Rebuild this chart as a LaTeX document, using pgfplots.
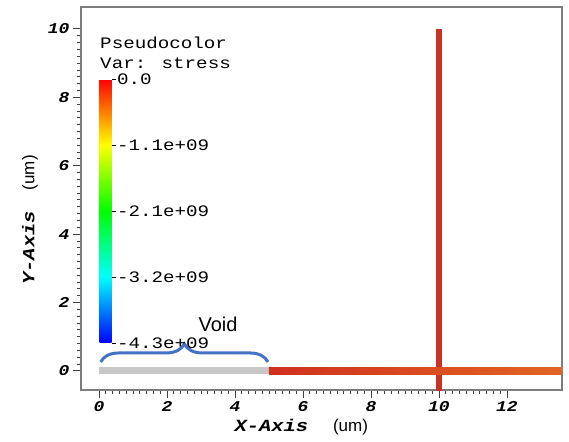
\documentclass[border=0pt]{standalone}
\usepackage{fontspec}
\usepackage{pgfplots}
\pgfplotsset{compat=1.18}
\usetikzlibrary{decorations.pathreplacing}
\setmainfont{Liberation Sans}
\newfontfamily\cour[FakeStretch=1.2]{Liberation Mono}

\definecolor{axgray}{RGB}{125,125,125}
\definecolor{voidgray}{RGB}{200,200,200}
\definecolor{barA}{RGB}{208,48,30}
\definecolor{barB}{RGB}{226,100,36}
\definecolor{barV}{RGB}{200,50,36}
\definecolor{bracecol}{RGB}{68,114,196}

\begin{document}
\begin{tikzpicture}
\begin{axis}[
    width=481pt, height=383pt, scale only axis,
    xmin=-0.53, xmax=13.62, ymin=-0.56, ymax=10.64,
    xtick={0,2,...,12}, ytick={0,2,...,10}, minor tick num=9,
    tick align=outside, xtick pos=left, ytick pos=left,
    major tick length=8pt, minor tick length=4pt,
    axis line style={draw=axgray, line width=1.2pt},
    tick style={black!75, line width=0.8pt},
    tick label style={font=\cour\bfseries\itshape\fontsize{15}{18}\selectfont},
    /pgf/number format/assume math mode=true,
    xlabel={{\cour\bfseries\itshape X-Axis}\hspace{25pt}(um)},
    ylabel={{\cour\bfseries\itshape Y-Axis}\hspace{21pt}(um)},
    label style={font=\fontsize{17}{20}\selectfont},
    xlabel style={at={(axis description cs:0.458,-0.097)}, anchor=center},
    ylabel style={at={(axis description cs:-0.106,0.444)}, anchor=center},
    no markers,
    colormap={visit}{rgb255=(0,0,255) rgb255=(0,255,255) rgb255=(0,255,0) rgb255=(255,255,0) rgb255=(255,0,0)},
    point meta min=-4.3, point meta max=0,
    colorbar,
    colorbar style={
        at={(parent axis.south west)}, anchor=south west,
        xshift=10pt, yshift=47pt,
        width=12pt, height=264pt, scale only axis,
        axis line style={draw=none},
        ytick={0,-1.075,-2.15,-3.225,-4.3},
        yticklabels={0.0,-1.1e+09,-2.1e+09,-3.2e+09,-4.3e+09},
        ytick pos=right, yticklabel pos=right,
        major tick length=4pt, tick align=outside,
        tick style={black, line width=0.6pt},
        yticklabel style={font=\cour\fontsize{16}{18}\selectfont, xshift=-2pt},
    },
]

% void region
\addplot[draw=none, fill=voidgray] coordinates {
    (0,-0.1) (5,-0.1) (5,0.1) (0,0.1)
} -- cycle;

% vertical line at x = 10
\addplot[draw=none, fill=barV] coordinates {
    (9.9,-0.6) (10.1,-0.6) (10.1,10) (9.9,10)
} -- cycle;

% horizontal line
\addplot[draw=none, left color=barA, right color=barB] coordinates {
    (5,-0.1) (13.62,-0.1) (13.62,0.1) (5,0.1)
} -- cycle;

\node[anchor=base west, inner sep=0, font=\cour\fontsize{16}{18}\selectfont] at (axis cs:0.03,9.42) {Pseudocolor};
\node[anchor=base west, inner sep=0, font=\cour\fontsize{16}{18}\selectfont] at (axis cs:0.03,8.85) {Var: stress};

\draw[decorate, decoration={brace, amplitude=18pt}, bracecol, line width=3pt]
    (axis cs:0.05,0.26) -- (axis cs:4.97,0.26);
\node[font=\fontsize{20}{24}\selectfont] at (axis cs:3.5,1.37) {Void};
\end{axis}
\pgfresetboundingbox
\path (-81pt,-51pt) rectangle (488pt,390pt);
\end{tikzpicture}
\end{document}
